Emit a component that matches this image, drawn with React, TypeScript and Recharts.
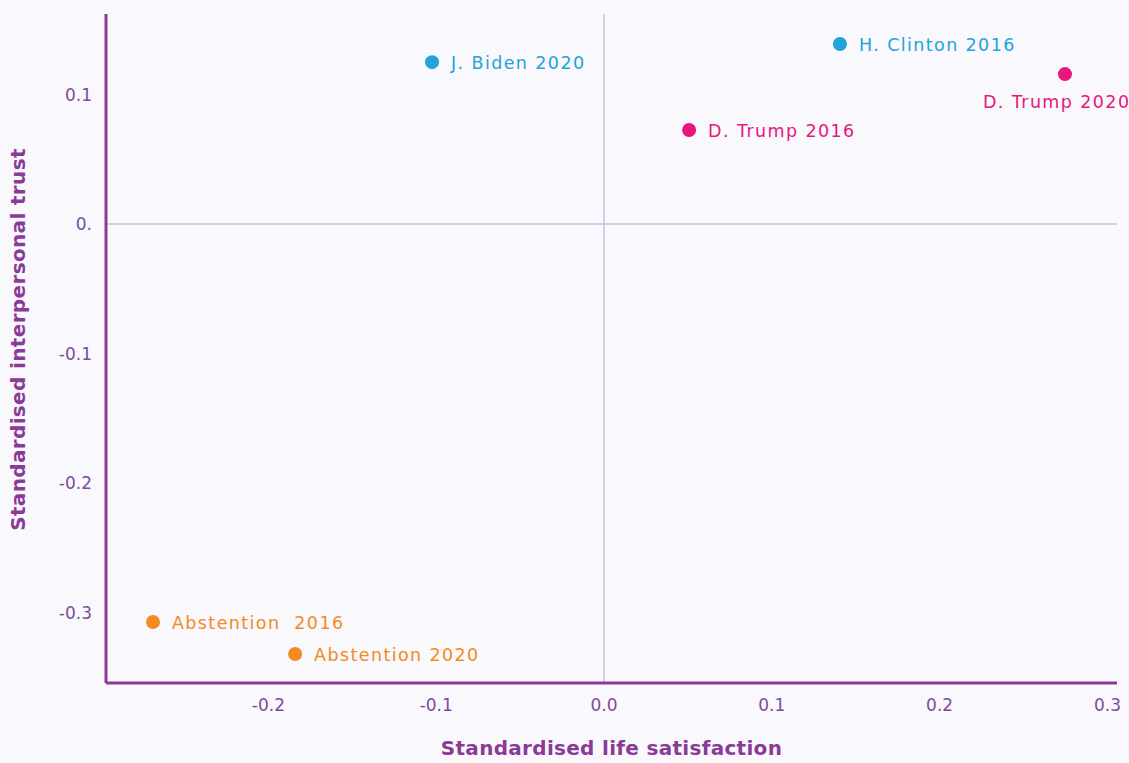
import React from 'react';
import { ScatterChart, Scatter, XAxis, YAxis, ReferenceLine, LabelList } from 'recharts';

const labels = ['J. Biden 2020', 'H. Clinton 2016', 'D. Trump 2020', 'D. Trump 2016', 'Abstention  2016', 'Abstention 2020'];
const lifeSatisfaction = [-0.1025, 0.1406, 0.2747, 0.0507, -0.2688, -0.1841];
const interpersonalTrust = [0.125, 0.139, 0.1158, 0.0726, -0.3073, -0.332];
const groups = ['dem', 'dem', 'rep', 'rep', 'abs', 'abs'];

const xTicks = [-0.2, -0.1, 0, 0.1, 0.2, 0.3];
const yTicks = [-0.3, -0.2, -0.1, 0, 0.1];

const points = labels.map((name, i) => ({
  name,
  x: lifeSatisfaction[i],
  y: interpersonalTrust[i],
  group: groups[i],
}));

const groupColors: Record<string, string> = {
  dem: '#22a3da',
  rep: '#e6177f',
  abs: '#f28b21',
};

const PURPLE = '#8b3a98';
const TICK = '#7d4b9c';
const FONT = '"DejaVu Sans", sans-serif';

const Dot = (props: any) => {
  const { cx, cy, fill } = props;
  return <circle cx={cx} cy={cy} r={7} fill={fill} />;
};

const makeLabel = (color: string) => (props: any) => {
  const { x, y, width, height, value } = props;
  const cx = x + width / 2;
  const cy = y + height / 2;
  const below = value === 'D. Trump 2020';
  return (
    <text
      x={below ? cx - 82 : cx + 19}
      y={below ? cy + 28 : cy + 1}
      dominantBaseline="central"
      fill={color}
      fontSize={17.5}
      letterSpacing={1.4}
      fontFamily={FONT}
      style={{ whiteSpace: 'pre' }}
    >
      {value}
    </text>
  );
};

// rotated y-axis title, a little above the plot's middle as in the original
const YTitle = () => (
  <text
    x={18}
    y={339.5}
    transform="rotate(-90, 18, 339.5)"
    textAnchor="middle"
    dominantBaseline="central"
    fill={PURPLE}
    fontSize={20}
    fontWeight={700}
    letterSpacing={0.35}
    fontFamily={FONT}
  >
    Standardised interpersonal trust
  </text>
);

export default function App() {
  return (
    <div style={{ position: 'absolute', left: 0, top: 0, width: 1129, height: 763, background: '#f9f8fc' }}>
      <ScatterChart width={1129} height={763} margin={{ top: 14, right: 12, left: 0, bottom: 0 }}>
        <XAxis
          type="number"
          dataKey="x"
          domain={[-0.2968, 0.3057]}
          ticks={xTicks}
          tickFormatter={(v: number) => v.toFixed(1)}
          tickLine={false}
          axisLine={{ stroke: PURPLE, strokeWidth: 3 }}
          tick={{ fill: TICK, fontSize: 17, fontFamily: FONT }}
          tickMargin={10}
          height={80}
          allowDataOverflow
          label={{ value: 'Standardised life satisfaction', position: 'insideBottom', offset: 8, fill: PURPLE, fontSize: 20, fontWeight: 700, letterSpacing: 0.3, fontFamily: FONT }}
        />
        <YAxis
          type="number"
          dataKey="y"
          domain={[-0.3544, 0.1622]}
          ticks={yTicks}
          tickFormatter={(v: number) => (v === 0 ? '0.' : v.toFixed(1))}
          tickLine={false}
          axisLine={{ stroke: PURPLE, strokeWidth: 3 }}
          tick={{ fill: TICK, fontSize: 17, fontFamily: FONT }}
          tickMargin={8}
          width={106}
          allowDataOverflow
          label={<YTitle />}
        />
        <ReferenceLine x={0} stroke="#cdbfe0" strokeWidth={1.5} />
        <ReferenceLine y={0} stroke="#cdbfe0" strokeWidth={1.5} />
        {Object.keys(groupColors).map((g) => (
          <Scatter
            key={g}
            data={points.filter((p) => p.group === g)}
            fill={groupColors[g]}
            shape={<Dot />}
            isAnimationActive={false}
          >
            <LabelList dataKey="name" content={makeLabel(groupColors[g])} />
          </Scatter>
        ))}
      </ScatterChart>
    </div>
  );
}
